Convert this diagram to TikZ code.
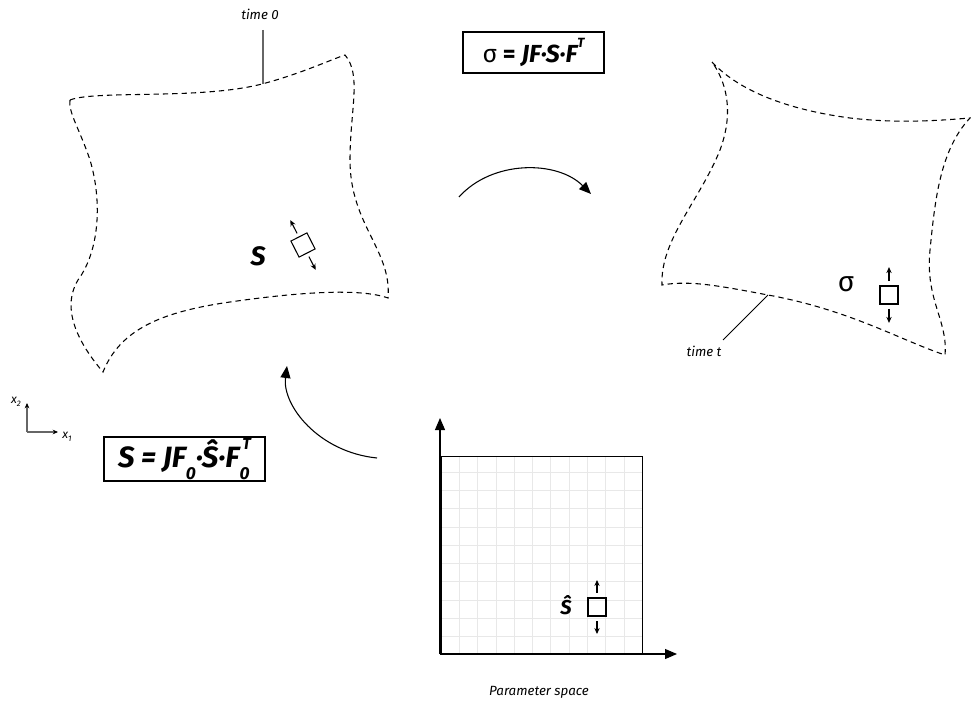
\documentclass[tikz,border=0pt]{standalone}
\usepackage{fontspec}
\setmainfont{Fira Sans}
\usetikzlibrary{arrows.meta,calc}
\newcommand{\lowr}[1]{\raisebox{-0.42em}{\fontsize{13}{13}\selectfont #1}}
\newcommand{\upr}[1]{\raisebox{0.62em}{\fontsize{12}{12}\selectfont #1}}
\newcommand{\uprs}[1]{\raisebox{0.6em}{\fontsize{10}{10}\selectfont #1}}
\begin{document}
\begin{tikzpicture}[x=0.75pt,y=-0.75pt,
  outline/.style={dash pattern=on 4pt off 3pt, line width=0.8pt},
  formulabox/.style={draw, line width=1.5pt, inner sep=0pt},
  elem/.style={draw, line width=0.8pt, minimum size=13.5pt, inner sep=0pt, outer sep=0pt},
  small/.style={-{Stealth[length=4.5pt,width=4pt]}, line width=0.8pt},
  bigarrow/.style={-{Triangle[length=9pt,width=7.5pt]}, line width=0.8pt},
  tinylabel/.style={font=\fontsize{10}{10}\selectfont\itshape},
  gridline/.style={draw=black!9, line width=0.6pt}]
\path[use as bounding box] (0,0) rectangle (971,706);

% ---------- reference configuration (time 0) ----------
\draw[outline] (70,100) .. controls (95,90) and (200,100) .. (262,84)
  .. controls (300,74) and (330,60) .. (345,55)
  .. controls (362,75) and (350,110) .. (350,160)
  .. controls (350,225) and (392,250) .. (388,298)
  .. controls (360,288) and (300,292) .. (230,302)
  .. controls (160,312) and (120,330) .. (103,372)
  .. controls (80,345) and (60,310) .. (78,280)
  .. controls (100,250) and (102,200) .. (90,160)
  .. controls (80,130) and (68,112) .. (70,100);
\coordinate (t0pt) at (263,84);
\node[tinylabel] (t0lbl) at (260,14) {time 0};
\draw[line width=0.8pt, black!60] (263,30) -- (t0pt);

\node[font=\fontsize{20}{20}\selectfont\bfseries\itshape] (Slbl) at (258,256) {S};
\node[elem, rotate=27] (sq1) at (303,245) {};
\draw[small] ($(sq1.center)!1.45!(sq1.north)$) -- ($(sq1.center)!3.1!(sq1.north)$);
\draw[small] ($(sq1.center)!1.45!(sq1.south)$) -- ($(sq1.center)!3.1!(sq1.south)$);

% ---------- current configuration (time t) ----------
\draw[outline] (712,62) .. controls (740,92) and (790,110) .. (850,118)
  .. controls (900,124) and (945,120) .. (970,118)
  .. controls (940,150) and (935,200) .. (930,250)
  .. controls (925,300) and (948,320) .. (945,355)
  .. controls (900,340) and (850,310) .. (768,295)
  .. controls (720,286) and (690,280) .. (662,285)
  .. controls (660,240) and (700,200) .. (720,150)
  .. controls (735,110) and (725,80) .. (712,62);
\coordinate (ttpt) at (768,295);
\node[tinylabel] (ttlbl) at (704,351) {time t};
\draw[line width=0.7pt] (723,340) -- (ttpt);

\node[font=\fontsize{21}{21}\selectfont] (siglbl) at (846,284) {σ};
\node[elem] (sq2) at (889,295) {};
\draw[small] ($(sq2.center)!1.55!(sq2.north)$) -- ($(sq2.center)!3.1!(sq2.north)$);
\draw[small] ($(sq2.center)!1.55!(sq2.south)$) -- ($(sq2.center)!3.1!(sq2.south)$);

% ---------- formulas ----------
\node[formulabox, minimum width=105.75pt, minimum height=30.75pt,
  font=\fontsize{18.5}{18.5}\selectfont\bfseries] (f1) at (533.5,52.5)
  {{\mdseries σ} = \itshape JF·S·F\uprs{T}};
\node[formulabox, minimum width=120.75pt, minimum height=33pt,
  font=\fontsize{22}{22}\selectfont\bfseries\itshape] (f2) at (184.5,459)
  {S = JF\lowr{0}·Ŝ·F\rlap{\lowr{0}}\hspace{0.1em}\upr{T}\hspace{0.2em}};

% ---------- transformation arrows ----------
\coordinate (a1s) at (459,197);
\coordinate (a1e) at (591,194);
\draw[bigarrow] (a1s) .. controls (492,160) and (557,160) .. (a1e);
\coordinate (a2s) at (377,458);
\coordinate (a2e) at (287,366);
\draw[bigarrow] (a2s) .. controls (318,452) and (282,405) .. (a2e);

% ---------- coordinate axes ----------
\coordinate (ax0) at (27,432);
\coordinate (ax1) at (58,432);
\coordinate (ax2) at (27,403);
\draw[black!60, line width=0.8pt, -{Stealth[length=4pt,width=3.5pt,black]}] (ax0) -- (ax1);
\draw[black!60, line width=0.8pt, -{Stealth[length=4pt,width=3.5pt,black]}] (ax0) -- (ax2);
\node[font=\fontsize{9}{9}\selectfont\itshape] (x1lbl) at (67,437) {x\raisebox{-0.5ex}{\fontsize{6}{6}\selectfont 1}};
\node[font=\fontsize{9}{9}\selectfont\itshape] (x2lbl) at (16,402) {x\raisebox{-0.5ex}{\fontsize{6}{6}\selectfont 2}};

% ---------- parameter space ----------
\foreach \k in {0,...,9} {
  \draw[gridline] ({459.3+18.3*\k},456) -- ({459.3+18.3*\k},654);
  \draw[gridline] (441,{636.7-18.3*\k}) -- (642,{636.7-18.3*\k});
}
\node[draw, line width=0.9pt, minimum width=150.75pt, minimum height=148.5pt, inner sep=0pt, anchor=north west] (pbox) at (441,456) {};
\coordinate (po) at (440,654);
\coordinate (py) at (440,418);
\coordinate (px) at (677,654);
\draw[bigarrow] (po) -- (py);
\draw[bigarrow] (po) -- (px);
\node[font=\fontsize{15}{15}\selectfont\bfseries\itshape] (Shlbl) at (566,605) {Ŝ};
\node[elem] (sq3) at (597,607) {};
\draw[small] ($(sq3.center)!1.6!(sq3.north)$) -- ($(sq3.center)!3.0!(sq3.north)$);
\draw[small] ($(sq3.center)!1.6!(sq3.south)$) -- ($(sq3.center)!3.0!(sq3.south)$);
\node[tinylabel] (pslbl) at (539,692) {Parameter space};
\end{tikzpicture}
\end{document}
